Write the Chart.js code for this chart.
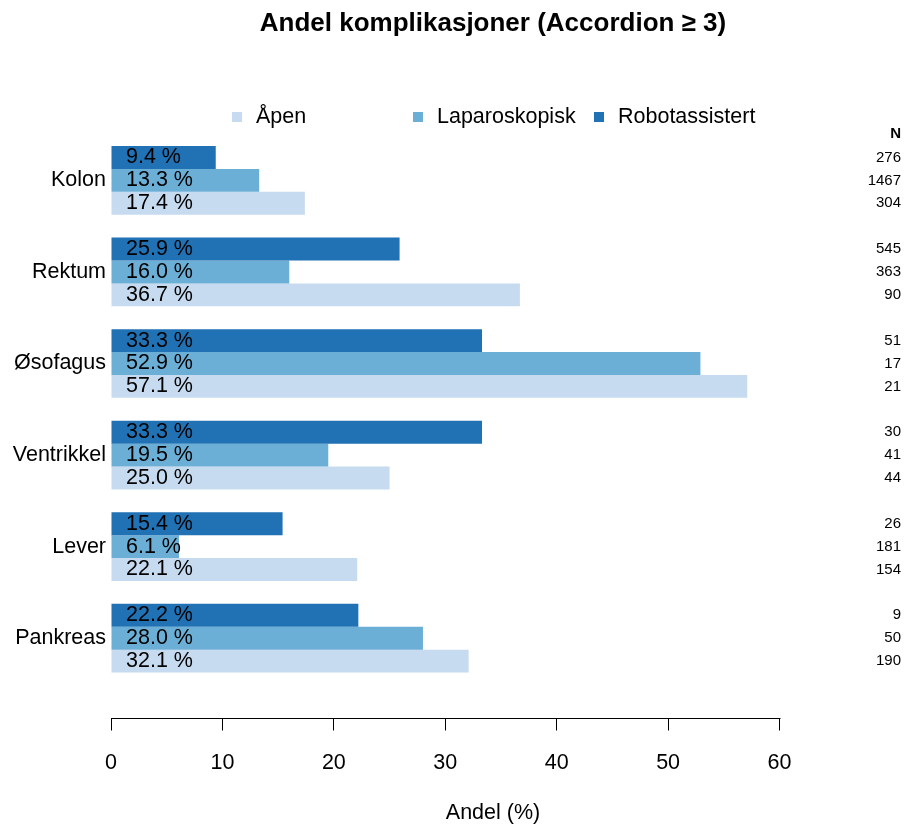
<!DOCTYPE html>
<html>
<head>
<meta charset="utf-8">
<script src="https://cdn.jsdelivr.net/npm/chart.js@4/dist/chart.umd.min.js"></script>
<style>
html,body{margin:0;padding:0;background:#fff;}
#wrap{width:905px;height:826px;position:relative;}
</style>
</head>
<body>
<div id="wrap"><canvas id="c"></canvas></div>
<script>
// ---- data ----
const categories = ['Kolon', 'Rektum', 'Øsofagus', 'Ventrikkel', 'Lever', 'Pankreas'];
const robotValues = [9.4, 25.9, 33.3, 33.3, 15.4, 22.2];
const lapValues   = [13.3, 16.0, 52.9, 19.5, 6.1, 28.0];
const openValues  = [17.4, 36.7, 57.1, 25.0, 22.1, 32.1];
const robotN = [276, 545, 51, 30, 26, 9];
const lapN   = [1467, 363, 17, 41, 181, 50];
const openN  = [304, 90, 21, 44, 154, 190];
const xTicks = [0, 10, 20, 30, 40, 50, 60];
const seriesNames = ['Robotassistert', 'Laparoskopisk', 'Åpen'];
const titleText = 'Andel komplikasjoner (Accordion ≥ 3)';
const xTitle = 'Andel (%)';

// ---- styling ----
const FONT = '"Liberation Sans", Arial, Helvetica, sans-serif';
const seriesColors = ['#2171B5', '#6BAED6', '#C6DBEF'];
Chart.defaults.font.family = FONT;
Chart.defaults.color = '#000';

const seriesValues = [robotValues, lapValues, openValues];
const seriesN = [robotN, lapN, openN];

const datasets = seriesNames.map((name, i) => ({
  label: name,
  data: seriesValues[i].map((v, j) => ({ x: v, y: j })),
  backgroundColor: seriesColors[i],
  borderWidth: 0,
  categoryPercentage: 0.75,
  barPercentage: 1.0
}));

const annotations = {
  id: 'annotations',
  afterDatasetsDraw(chart) {
    const { ctx, chartArea } = chart;
    const xs = chart.scales.x;
    ctx.save();
    // x axis line from first to last tick
    ctx.strokeStyle = '#000';
    ctx.lineWidth = 1;
    const yAxis = Math.round(chartArea.bottom) + 0.5;
    ctx.beginPath();
    ctx.moveTo(Math.round(xs.getPixelForValue(xTicks[0])) + 0.5, yAxis);
    ctx.lineTo(Math.round(xs.getPixelForValue(xTicks[xTicks.length - 1])) + 0.5, yAxis);
    ctx.stroke();

    ctx.fillStyle = '#000';
    ctx.textBaseline = 'middle';
    const x0 = xs.getPixelForValue(0);
    const nx = chartArea.right + 26;
    chart.data.datasets.forEach((ds, i) => {
      const meta = chart.getDatasetMeta(i);
      meta.data.forEach((el, j) => {
        ctx.font = '21.5px ' + FONT;
        ctx.textAlign = 'left';
        ctx.fillText(seriesValues[i][j].toFixed(1) + ' %', x0 + 15, el.y);
        ctx.font = '15px ' + FONT;
        ctx.textAlign = 'right';
        ctx.fillText(String(seriesN[i][j]), nx, el.y);
      });
    });
    ctx.font = 'bold 15px ' + FONT;
    ctx.textAlign = 'right';
    ctx.fillText('N', nx, chartArea.top);

    // legend (Åpen, Laparoskopisk, Robotassistert)
    const cx = (chartArea.left + chartArea.right) / 2;
    const colW = 181;
    const left = cx - 261;
    const ly = chartArea.top - 17;
    ctx.font = '21.5px ' + FONT;
    ctx.textAlign = 'left';
    const order = chart.data.datasets.map((d, i) => i).reverse();
    order.forEach((di, k) => {
      const ds = chart.data.datasets[di];
      const bx = left + k * colW;
      ctx.fillStyle = ds.backgroundColor;
      ctx.fillRect(bx, ly - 5, 10, 10);
      ctx.fillStyle = '#000';
      ctx.fillText(ds.label, bx + 24, ly);
    });
    ctx.restore();
  }
};

new Chart(document.getElementById('c'), {
  type: 'bar',
  data: { datasets },
  plugins: [annotations],
  options: {
    indexAxis: 'y',
    responsive: true,
    maintainAspectRatio: false,
    animation: false,
    layout: { padding: { left: 0, right: 30, top: 0, bottom: 0 } },
    plugins: {
      legend: { display: false },
      tooltip: { enabled: false },
      title: {
        display: true,
        text: titleText,
        fullSize: false,
        color: '#000',
        font: { size: 26, weight: 'bold', family: FONT },
        padding: { top: 8, bottom: 94.8 }
      }
    },
    scales: {
      x: {
        type: 'linear',
        position: 'bottom',
        min: 0,
        max: 68.57,
        offset: false,
        afterBuildTicks: s => { s.ticks = xTicks.map(v => ({ value: v })); },
        grid: { display: true, drawOnChartArea: false, drawTicks: true, tickLength: 13, color: '#000', lineWidth: 1 },
        border: { display: false },
        ticks: { padding: 20, font: { size: 21.5 }, color: '#000', maxRotation: 0, autoSkip: false },
        title: { display: true, text: xTitle, color: '#000', font: { size: 21.5 }, padding: { top: 3.9, bottom: 0 } }
      },
      y: {
        type: 'linear',
        reverse: true,
        offset: false,
        min: -0.5065,
        max: 5.866,
        afterBuildTicks: s => { s.ticks = categories.map((c, i) => ({ value: i })); },
        afterFit: s => { s.width = 111; },
        grid: { display: false, drawTicks: false },
        border: { display: false },
        ticks: {
          padding: 5,
          autoSkip: false,
          color: '#000',
          font: { size: 21.5 },
          callback: v => categories[v] !== undefined ? categories[v] : ''
        }
      }
    }
  }
});
</script>
</body>
</html>
